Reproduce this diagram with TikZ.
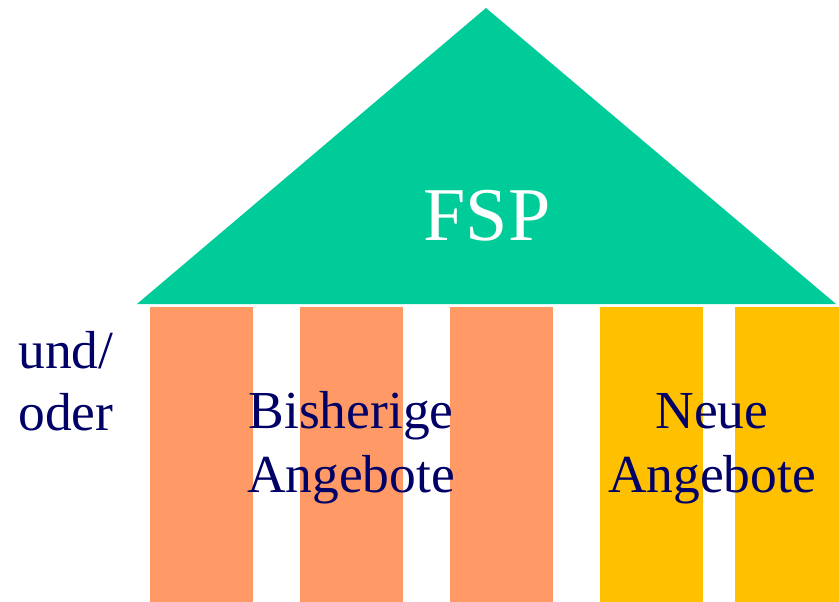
\documentclass[tikz,border=0pt]{standalone}
\usepackage{fontspec}
\setmainfont{Liberation Serif}
\definecolor{roof}{HTML}{00CC99}
\definecolor{colA}{HTML}{FF9966}
\definecolor{colB}{HTML}{FFC000}
\definecolor{ink}{HTML}{000066}
\begin{document}
\begin{tikzpicture}[x=1pt,y=-1pt,
  col/.style={inner sep=0pt, outer sep=0pt, minimum width=103pt, minimum height=295pt, anchor=north west},
  lbl/.style={text=ink, font=\fontsize{53.5}{64}\selectfont, inner sep=0pt, anchor=base, align=center}]
\useasboundingbox (0,0) rectangle (839,602);
\fill[roof] (486,8) -- (836,304) -- (137,304) -- cycle;
\coordinate (apex) at (486,8);
\node[col, fill=colA] (c1) at (150,307) {};
\node[col, fill=colA] (c2) at (300,307) {};
\node[col, fill=colA] (c3) at (450,307) {};
\node[col, fill=colB] (c4) at (600,307) {};
\node[col, fill=colB, minimum width=104pt] (c5) at (735,307) {};
\node[text=white, font=\fontsize{76}{86}\selectfont, inner sep=0pt, anchor=base] (fsp) at (487,240) {FSP};
\node[lbl] (und) at (66,368) {und/};
\node[lbl] (oder) at (66,430) {oder};
\node[lbl] (bis) at (351,428) {Bisherige};
\node[lbl] (ang1) at (351,492) {Angebote};
\node[lbl] (neue) at (712,428) {Neue};
\node[lbl] (ang2) at (712,492) {Angebote};
\end{tikzpicture}
\end{document}
